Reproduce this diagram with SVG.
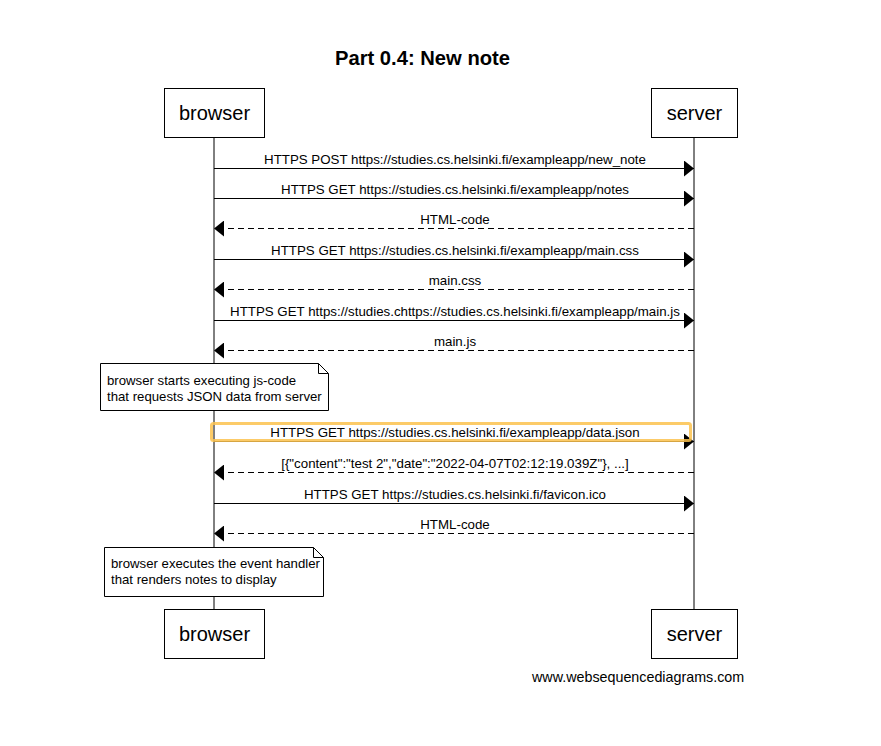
<svg xmlns="http://www.w3.org/2000/svg" width="881" height="746" viewBox="0 0 881 746">
<style>
text{font-family:"Liberation Sans",Arial,sans-serif;fill:#000}
.title{font-size:20.2px;font-weight:bold;text-anchor:middle}
.actor rect{fill:#fff;stroke:#000;stroke-width:1}
.actor text{font-size:20px;text-anchor:middle}
.life{stroke:#000;stroke-width:1}
.msg{stroke:#000;stroke-width:1;fill:none;marker-end:url(#ah)}
.ret{stroke-dasharray:6,4}
.lbl{font-size:13.3px;text-anchor:middle}
.note path{fill:#fff;stroke:#000;stroke-width:1}
.note text{font-size:13.2px}
.foot{font-size:14.3px}
</style>
<defs>
<marker id="ah" viewBox="0 0 10 16" refX="10" refY="8" markerWidth="10" markerHeight="16" markerUnits="userSpaceOnUse" orient="auto">
<path d="M0,0 L10,8 L0,16 z" fill="#000"/>
</marker>
</defs>
<rect width="881" height="746" fill="#fff"/>
<text class="title" x="422.5" y="65">Part 0.4: New note</text>
<g id="lifelines">
<line class="life" x1="214" y1="137" x2="214" y2="609"/>
<line class="life" x1="694" y1="137" x2="694" y2="609"/>
</g>
<g id="browser-top" class="actor"><rect x="164.5" y="88.5" width="100" height="49"/><text x="214.5" y="120">browser</text></g>
<g id="server-top" class="actor"><rect x="651.5" y="88.5" width="86" height="49"/><text x="694.5" y="120">server</text></g>
<g id="browser-bottom" class="actor"><rect x="164.5" y="609.5" width="100" height="49"/><text x="214.5" y="641">browser</text></g>
<g id="server-bottom" class="actor"><rect x="651.5" y="609.5" width="86" height="49"/><text x="694.5" y="641">server</text></g>
<g id="connectors">
<line class="msg" x1="214" y1="168.5" x2="694" y2="168.5"/>
<text class="lbl" x="455" y="164">HTTPS POST https://studies.cs.helsinki.fi/exampleapp/new_note</text>
<line class="msg" x1="214" y1="198.5" x2="694" y2="198.5"/>
<text class="lbl" x="455" y="194">HTTPS GET https://studies.cs.helsinki.fi/exampleapp/notes</text>
<line class="msg ret" x1="694" y1="228.5" x2="214" y2="228.5"/>
<text class="lbl" x="455" y="224">HTML-code</text>
<line class="msg" x1="214" y1="259.5" x2="694" y2="259.5"/>
<text class="lbl" x="455" y="255">HTTPS GET https://studies.cs.helsinki.fi/exampleapp/main.css</text>
<line class="msg ret" x1="694" y1="289.5" x2="214" y2="289.5"/>
<text class="lbl" x="455" y="285">main.css</text>
<line class="msg" x1="214" y1="320.5" x2="694" y2="320.5"/>
<text class="lbl" x="455" y="316">HTTPS GET https://studies.chttps://studies.cs.helsinki.fi/exampleapp/main.js</text>
<line class="msg ret" x1="694" y1="350.5" x2="214" y2="350.5"/>
<text class="lbl" x="455" y="346">main.js</text>
<line class="msg" x1="214" y1="441.5" x2="694" y2="441.5"/>
<text class="lbl" x="455" y="437">HTTPS GET https://studies.cs.helsinki.fi/exampleapp/data.json</text>
<line class="msg ret" x1="694" y1="472.5" x2="214" y2="472.5"/>
<text class="lbl" x="455" y="468">[{"content":"test 2","date":"2022-04-07T02:12:19.039Z"}, ...]</text>
<line class="msg" x1="214" y1="503.5" x2="694" y2="503.5"/>
<text class="lbl" x="455" y="499">HTTPS GET https://studies.cs.helsinki.fi/favicon.ico</text>
<line class="msg ret" x1="694" y1="533.5" x2="214" y2="533.5"/>
<text class="lbl" x="455" y="529">HTML-code</text>
</g>
<g id="note1" class="note">
<path d="M100.5,363.5 H318.5 L328.5,373.5 V410.5 H100.5 Z M318.5,363.5 V373.5 H328.5"/>
<text x="107" y="385">browser starts executing js-code</text>
<text x="107" y="401">that requests JSON data from server</text>
</g>
<g id="note2" class="note">
<path d="M104.5,547.5 H313.5 L323.5,557.5 V596.5 H104.5 Z M313.5,547.5 V557.5 H323.5"/>
<text x="111" y="568">browser executes the event handler</text>
<text x="111" y="584">that renders notes to display</text>
</g>
<rect id="highlight" x="211.5" y="423.5" width="479" height="17" rx="2" fill="none" stroke="#FBC24E" stroke-opacity="0.85" stroke-width="3"/>
<text class="foot" x="532" y="682">www.websequencediagrams.com</text>
</svg>
